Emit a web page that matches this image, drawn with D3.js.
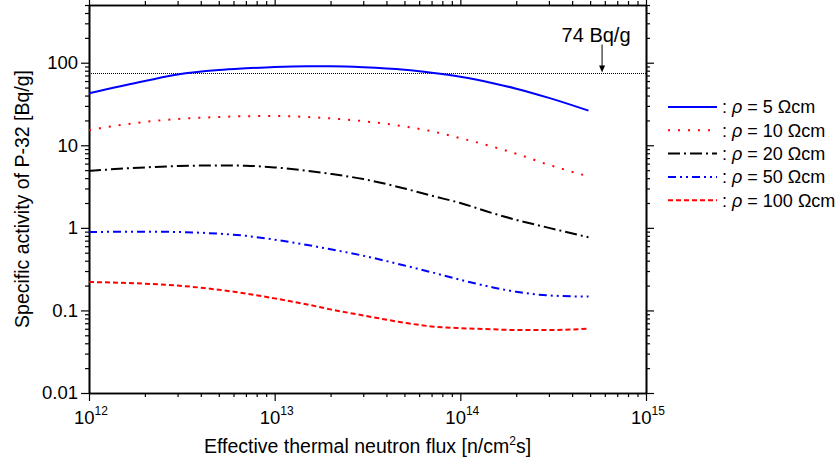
<!DOCTYPE html>
<html>
<head>
<meta charset="utf-8">
<title>Specific activity of P-32</title>
<script src="https://d3js.org/d3.v7.min.js"></script>
<style>
  body { margin: 0; background: #fff; }
  text { font-family: "Liberation Sans", Arial, sans-serif; fill: #000; }
</style>
</head>
<body>
<svg id="chart"></svg>
<script>
// flux grid [n/cm^2 s]
var flux = [1e12, 2e12, 3e12, 5e12, 7e12, 1e13, 1.5e13, 2e13, 3e13, 5e13, 7e13, 1e14, 1.5e14, 2e14, 3e14, 4.9e14];

// specific activity [Bq/g], one array per resistivity
var rho5   = [42.7, 60, 72, 81.5, 85.5, 89, 90.8, 90.5, 88, 82, 75.5, 67.5, 56.5, 48.5, 37.5, 26.3];
var rho10  = [15.3, 19.2, 20.8, 22, 22.5, 22.6, 22, 21.2, 19.6, 16.9, 14.8, 12.2, 9.6, 7.9, 5.8, 4.2];
var rho20  = [4.9, 5.4, 5.6, 5.7, 5.65, 5.4, 4.9, 4.5, 3.9, 3.0, 2.45, 2.0, 1.5, 1.25, 1.0, 0.77];
var rho50  = [0.89, 0.90, 0.89, 0.85, 0.80, 0.72, 0.62, 0.55, 0.46, 0.35, 0.29, 0.235, 0.19, 0.168, 0.152, 0.147];
var rho100 = [0.221, 0.211, 0.20, 0.178, 0.16, 0.14, 0.118, 0.103, 0.087, 0.071, 0.064, 0.061, 0.059, 0.058, 0.058, 0.06];

var seriesNames = ["5", "10", "20", "50", "100"];
var seriesValues = [rho5, rho10, rho20, rho50, rho100];
var seriesColors = ["#0000ff", "#ff0000", "#000000", "#0000ff", "#ff0000"];
var seriesDash = ["none", "2,8", "12,4,2,4", "8,4,2,4,2,4", "5,3"];

var xMajor = [1e12, 1e13, 1e14, 1e15];
var xExp = ["12", "13", "14", "15"];
var yMajor = [0.01, 0.1, 1, 10, 100];
var yLabels = ["0.01", "0.1", "1", "10", "100"];

var limitValue = 74;       // Bq/g
var arrowFlux = 5.8e14;

var W = 839, H = 463;
var margin = {top: 5, right: 193, bottom: 70, left: 89};
var width = W - margin.left - margin.right,
    height = H - margin.top - margin.bottom;

var svg = d3.select("#chart").attr("width", W).attr("height", H);
var g = svg.append("g").attr("transform", "translate(" + margin.left + "," + margin.top + ")");

var x = d3.scaleLog().domain([1e12, 1e15]).range([0, width]);
var y = d3.scaleLog().domain([0.01, 500]).range([height, 0]);

// minor tick values (2..9 of each decade)
var xMinor = [];
[1e12, 1e13, 1e14].forEach(function(d) { for (var k = 2; k < 10; k++) xMinor.push(d * k); });
var yMinor = [];
[0.01, 0.1, 1, 10, 100].forEach(function(d) { for (var k = 2; k < 10; k++) if (d * k <= 500) yMinor.push(d * k); });

function styleAxis(sel, lw) {
  sel.select(".domain").attr("stroke", "#000").attr("stroke-width", lw);
  sel.selectAll(".tick line").attr("stroke", "#000").attr("stroke-width", 1.2);
}

// minor ticks on all four sides
styleAxis(g.append("g").attr("transform", "translate(0," + height + ")")
  .call(d3.axisBottom(x).tickValues(xMinor).tickSize(4).tickSizeOuter(0).tickFormat("")), 1.6);
styleAxis(g.append("g")
  .call(d3.axisTop(x).tickValues(xMinor).tickSize(4).tickSizeOuter(0).tickFormat("")), 1.6);
styleAxis(g.append("g")
  .call(d3.axisLeft(y).tickValues(yMinor).tickSize(4).tickSizeOuter(0).tickFormat("")), 1.6);
styleAxis(g.append("g").attr("transform", "translate(" + width + ",0)")
  .call(d3.axisRight(y).tickValues(yMinor).tickSize(4).tickSizeOuter(0).tickFormat("")), 1.6);

// major ticks
var xb = g.append("g").attr("transform", "translate(0," + height + ")")
  .call(d3.axisBottom(x).tickValues(xMajor).tickSize(8).tickSizeOuter(0).tickFormat(""));
styleAxis(xb, 1.6);
g.append("g").call(d3.axisTop(x).tickValues(xMajor).tickSize(7).tickSizeOuter(0).tickFormat("")).call(styleAxis, 1.6);
var yl = g.append("g")
  .call(d3.axisLeft(y).tickValues(yMajor).tickSize(8).tickSizeOuter(0)
    .tickFormat(function(d, i) { return yLabels[i]; }));
styleAxis(yl, 1.6);
yl.selectAll(".tick text").attr("x", -11).style("font-size", "18.5px")
  .style("font-family", "'Liberation Sans', Arial, sans-serif");
g.append("g").attr("transform", "translate(" + width + ",0)")
  .call(d3.axisRight(y).tickValues(yMajor).tickSize(8).tickSizeOuter(0).tickFormat("")).call(styleAxis, 1.6);

// x tick labels with superscript exponent
var xl = g.append("g").selectAll("text").data(xMajor).enter().append("text")
  .attr("x", function(d) { return x(d) + 2; })
  .attr("y", height + 31)
  .attr("text-anchor", "middle")
  .style("font-size", "18.5px");
xl.append("tspan").text("10");
xl.append("tspan").attr("dy", -9).style("font-size", "12px").text(function(d, i) { return xExp[i]; });

// axis titles
var xt = svg.append("text")
  .attr("x", margin.left + width / 2)
  .attr("y", H - 10)
  .attr("text-anchor", "middle")
  .style("font-size", "19.5px");
xt.append("tspan").text("Effective thermal neutron flux [n/cm");
xt.append("tspan").attr("dy", -8).style("font-size", "12px").text("2");
xt.append("tspan").attr("dy", 8).text("s]");

svg.append("text")
  .attr("transform", "translate(29," + (margin.top + height / 2) + ")rotate(-90)")
  .attr("text-anchor", "middle")
  .style("font-size", "19.5px")
  .text("Specific activity of P-32 [Bq/g]");

// 74 Bq/g reference line
g.append("line")
  .attr("x1", 0).attr("x2", width)
  .attr("y1", y(limitValue)).attr("y2", y(limitValue))
  .attr("stroke", "#000").attr("stroke-width", 1).attr("stroke-dasharray", "1,1");

var ax = x(arrowFlux), ay = y(limitValue);
g.append("line")
  .attr("x1", ax).attr("x2", ax).attr("y1", ay - 29).attr("y2", ay - 6)
  .attr("stroke", "#000").attr("stroke-width", 1);
g.append("path")
  .attr("d", "M" + (ax - 3) + "," + (ay - 8) + "L" + (ax + 3) + "," + (ay - 8) + "L" + ax + "," + (ay - 1) + "Z")
  .attr("fill", "#000");
g.append("text")
  .attr("x", ax - 6).attr("y", ay - 32)
  .attr("text-anchor", "middle")
  .style("font-size", "20px")
  .text("74 Bq/g");

// curves
var line = d3.line()
  .x(function(d) { return x(d[0]); })
  .y(function(d) { return y(d[1]); })
  .curve(d3.curveMonotoneX);

seriesValues.forEach(function(vals, i) {
  g.append("path")
    .datum(flux.map(function(f, j) { return [f, vals[j]]; }))
    .attr("fill", "none")
    .attr("stroke", seriesColors[i])
    .attr("stroke-width", 2)
    .attr("stroke-dasharray", seriesDash[i])
    .attr("d", line);
});

// legend
var lg = svg.append("g").attr("transform", "translate(668,107)");
var rows = lg.selectAll("g").data(seriesNames).enter().append("g")
  .attr("transform", function(d, i) { return "translate(0," + (i * 23.3) + ")"; });
rows.append("line")
  .attr("x1", 0).attr("x2", 49).attr("y1", 0).attr("y2", 0)
  .attr("stroke", function(d, i) { return seriesColors[i]; })
  .attr("stroke-width", 2)
  .attr("stroke-dasharray", function(d, i) { return seriesDash[i]; });
var lt = rows.append("text")
  .attr("x", 54).attr("y", 0).attr("dy", "0.35em")
  .style("font-size", "18px");
lt.append("tspan").text(": ");
lt.append("tspan").style("font-style", "italic").text("\u03c1");
lt.append("tspan").text(function(d) { return " = " + d + " \u03a9cm"; });
</script>
</body>
</html>
